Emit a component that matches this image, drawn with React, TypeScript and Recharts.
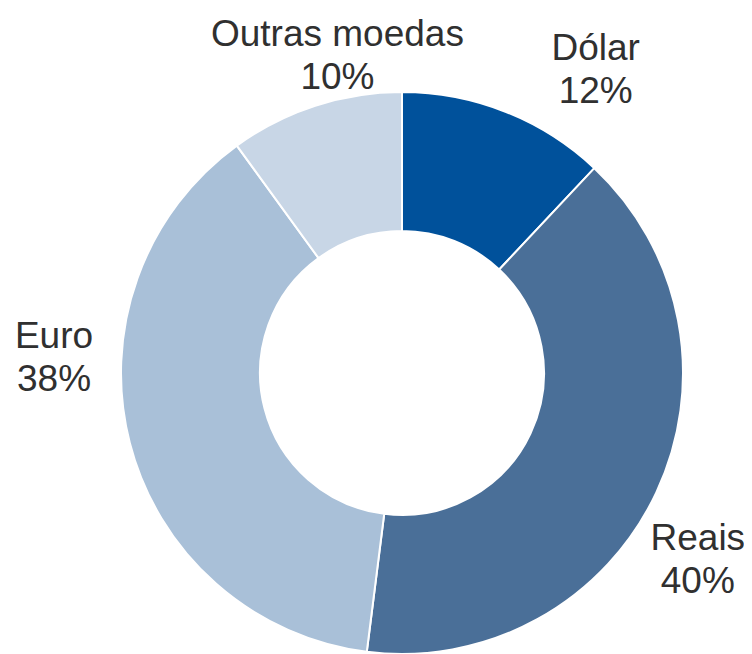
import { PieChart, Pie, Cell } from 'recharts';

const categories = ['Dólar', 'Reais', 'Euro', 'Outras moedas'];
const shares = [12, 40, 38, 10];

const COLORS = ['#00519b', '#4a6f98', '#a9c0d8', '#c8d6e6'];

// label placement around the donut (degrees added to the slice mid angle, radius in px)
const LABEL_ANGLE_SHIFT = [-12, -8.6, -15.1, -6.1];
const LABEL_RADIUS = [350, 356, 348, 313];

const data = categories.map((name, i) => ({ name, value: shares[i] }));

const RADIAN = Math.PI / 180;

const renderLabel = (props: any) => {
  const { cx, cy, midAngle, index, name, value } = props;
  const angle = (midAngle + LABEL_ANGLE_SHIFT[index]) * RADIAN;
  const r = LABEL_RADIUS[index];
  const x = cx + r * Math.cos(angle);
  const y = cy - r * Math.sin(angle);
  return (
    <text
      x={x}
      y={y}
      textAnchor="middle"
      fill="#303030"
      fontSize={37}
      fontFamily="'Liberation Sans', Arial, sans-serif"
    >
      <tspan x={x} y={y - 21}>{name}</tspan>
      <tspan x={x} y={y + 22}>{`${value}%`}</tspan>
    </text>
  );
};

export default function App() {
  return (
    <div style={{ width: 744, height: 646, background: '#fff' }}>
      <PieChart
        width={744}
        height={646}
        margin={{ top: 0, right: 0, bottom: 0, left: 0 }}
        style={{ overflow: 'visible' }}
      >
        <Pie
          data={data}
          dataKey="value"
          nameKey="name"
          cx={394}
          cy={365}
          innerRadius={142}
          outerRadius={281}
          startAngle={90}
          endAngle={-270}
          stroke="#ffffff"
          strokeWidth={2}
          label={renderLabel}
          labelLine={false}
          isAnimationActive={false}
        >
          {data.map((_, index) => (
            <Cell key={`cell-${index}`} fill={COLORS[index]} />
          ))}
        </Pie>
      </PieChart>
    </div>
  );
}
